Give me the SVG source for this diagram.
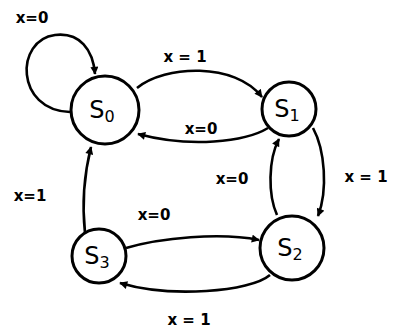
<svg xmlns="http://www.w3.org/2000/svg" width="397" height="334" viewBox="0 0 397 334">
<defs>
<marker id="ah" viewBox="0 0 10 10" refX="9" refY="5" markerWidth="10" markerHeight="8" markerUnits="userSpaceOnUse" orient="auto">
<path d="M0,0 L10,5 L0,10 z" fill="#000"/>
</marker>
<style>
.node circle{fill:#fff;stroke:#000;stroke-width:3}
.node text{font-family:"DejaVu Sans",sans-serif;font-size:24px;fill:#000;text-anchor:middle}
.edge{fill:none;stroke:#000;stroke-width:2.6;marker-end:url(#ah)}
.lbl{font-family:"DejaVu Sans",sans-serif;font-size:15px;font-weight:bold;fill:#000;text-anchor:middle}
</style>
</defs>
<rect width="397" height="334" fill="#fff"/>
<g id="connectors">
<path class="edge" d="M70,112 C15,110 15,40 55,35 C80,32 93,50 95,74"/>
<path class="edge" d="M137,88 C165,65 235,62 262,97"/>
<path class="edge" d="M268,128 C245,142 190,148 138,134"/>
<path class="edge" d="M313,128 C325,150 328,190 318,216"/>
<path class="edge" d="M277,215 C268,195 268,160 279,139"/>
<path class="edge" d="M85,233 C82,205 84,175 91,147"/>
<path class="edge" d="M126,248 C160,238 220,232 259,240"/>
<path class="edge" d="M270,275 C250,292 170,298 120,283"/>
</g>
<g id="labels">
<text class="lbl" x="32" y="23">x=0</text>
<text class="lbl" x="185" y="62">x = 1</text>
<text class="lbl" x="201" y="134">x=0</text>
<text class="lbl" x="366" y="182">x = 1</text>
<text class="lbl" x="232" y="184">x=0</text>
<text class="lbl" x="30" y="201">x=1</text>
<text class="lbl" x="154" y="220">x=0</text>
<text class="lbl" x="189" y="325">x = 1</text>
</g>
<g id="S0" class="node"><circle cx="105" cy="110" r="34"/><text x="102" y="118">S<tspan font-size="16" dy="4">0</tspan></text></g>
<g id="S1" class="node"><circle cx="289" cy="109" r="27"/><text x="287" y="117">S<tspan font-size="16" dy="4">1</tspan></text></g>
<g id="S2" class="node"><circle cx="292" cy="248" r="32"/><text x="290" y="256">S<tspan font-size="16" dy="4">2</tspan></text></g>
<g id="S3" class="node"><circle cx="99" cy="256" r="27"/><text x="97" y="264">S<tspan font-size="16" dy="4">3</tspan></text></g>
</svg>
